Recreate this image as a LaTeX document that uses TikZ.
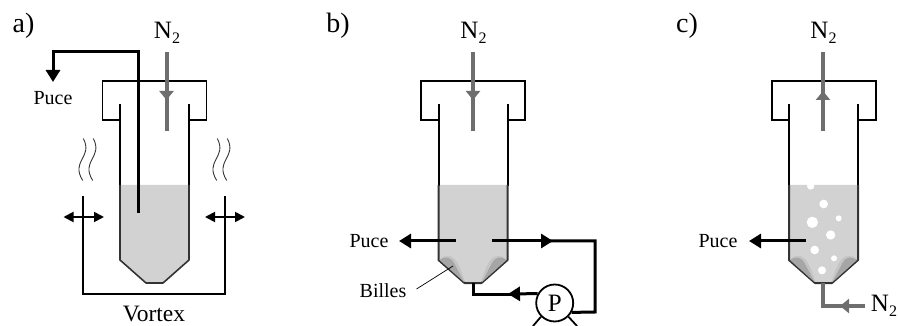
\documentclass[tikz,border=0pt]{standalone}
\usepackage{fontspec}
\setmainfont{Liberation Serif}
\usetikzlibrary{arrows.meta,calc}
\definecolor{liq}{HTML}{D2D2D2}
\definecolor{gas}{HTML}{6E6E6E}
\definecolor{bead}{HTML}{A6A6A6}
\definecolor{halo}{HTML}{C4C4C4}
\newcommand{\subtwo}{\raisebox{-5pt}{\fontsize{16}{16}\selectfont 2}}
\tikzset{
 wallw/.store in=\wallw, wallw=2pt,
 wall/.style={draw=black,line width=\wallw},
 lowwall/.style={draw=black!80,line width=\wallw,line join=round},
 gaspipe/.style={draw=gas,line width=4pt},
 blackpipe/.style={draw=black,line width=3pt,line join=miter},
 gashead/.style={-{Triangle[length=9pt,width=14pt,color=gas]}},
 blackhead/.style={-{Triangle[length=12pt,width=14pt,color=black]}},
 thinarrow/.style={line width=1.8pt,{Triangle[length=10pt,width=10pt]}-{Triangle[length=10pt,width=10pt]}},
 wave/.style={draw=black!80,line width=0.9pt},
 lab/.style={font=\fontsize{20}{22}\selectfont,inner sep=0pt},
 biglab/.style={font=\fontsize{25}{27}\selectfont,inner sep=0pt},
 tag/.style={font=\fontsize{28}{30}\selectfont,inner sep=0pt},
 bubble/.style={fill=white,draw=none},
 pumpc/.style={circle,draw=black,line width=1.8pt,minimum size=37pt,inner sep=0pt,font=\fontsize{25}{27}\selectfont},
 tubestyle/.pic={
  \fill[liq] (-34.5,185)--(34.5,185)--(34.5,260)--(8.5,283)--(-8.5,283)--(-34.5,260)--cycle;
  \draw[wall,line cap=butt] (-34.5,104)--(-34.5,186);
  \draw[wall,line cap=butt] (34.5,104)--(34.5,186);
  \draw[wall,line join=miter] (-34.5,120)--(-52,120)--(-52,81)--(52,81)--(52,120)--(34.5,120);
  \draw[lowwall] (-34.5,185)--(-34.5,260)--(-8.5,283)--(8.5,283)--(34.5,260)--(34.5,185);
 },
 beads/.pic={
  \foreach \s in {-1,1}{
   \fill[halo] (\s*33.5,259.5) .. controls (\s*28,254) and (\s*20,254) .. (\s*15,264) .. controls (\s*12,270) and (\s*9,277) .. (\s*8.5,282) -- cycle;
   \fill[bead] (\s*33.5,260) .. controls (\s*28,256) and (\s*23,256.5) .. (\s*19,263) -- (\s*9,282) -- cycle;
  }
 },
 vapor/.pic={
  \draw[wave] (0,0) .. controls (10,19) and (-13,22) .. (-0.6,42);
  \draw[wave] (10,0) .. controls (20,19) and (-3,22) .. (9.4,42);
 }
}
\begin{document}
\begin{tikzpicture}[x=1pt,y=-1pt]
\useasboundingbox (0,0) rectangle (898,326);
\clip (0,0) rectangle (898,326);
% ------------ a)
\node[tag] (taga) at (23.5,26) {a)};
\pic[wallw=1.6pt] at (154.5,0) {tubestyle};
\node[biglab] (na) at (167,33) {N\subtwo};
\coordinate (a1) at (166.5,52); \coordinate (a2) at (166.5,100); \coordinate (a3) at (166.5,131);
\draw[gaspipe] (a2)++(0,-5)--(a3);
\draw[gaspipe,gashead] (a1)--(a2);
\coordinate (p0) at (138,213); \coordinate (p1) at (138,52); \coordinate (p2) at (53,52); \coordinate (p3) at (53,82);
\draw[blackpipe,blackhead] (p0)--(p1)--(p2)--(p3);
\node[lab] (puca) at (53,98) {Puce};
\coordinate (v1) at (83,196); \coordinate (v2) at (83,294); \coordinate (v3) at (225,294); \coordinate (v4) at (225,196);
\draw[line width=1.6pt,line join=miter] (v1)--(v2)--(v3)--(v4);
\coordinate (l1) at (63.5,217); \coordinate (l2) at (104,217); \coordinate (r1) at (205,217); \coordinate (r2) at (245,217);
\draw[thinarrow] (l1)--(l2);
\draw[thinarrow] (r1)--(r2);
\pic at (83.3,138.5) {vapor};
\pic at (217.3,138.5) {vapor};
\node[biglab,font=\fontsize{23.5}{25}\selectfont] (vortex) at (154,314) {Vortex};
% ------------ b)
\node[tag] (tagb) at (338,26) {b)};
\pic at (473,0) {tubestyle};
\pic at (473,0) {beads};
\node[biglab] (nb) at (473.5,33) {N\subtwo};
\coordinate (b1) at (473,52); \coordinate (b2) at (473,100); \coordinate (b3) at (473,131);
\draw[gaspipe] (b2)++(0,-5)--(b3);
\draw[gaspipe,gashead] (b1)--(b2);
\node[lab] (pucb) at (369,241) {Puce};
\coordinate (c0) at (456,241); \coordinate (c1) at (399,241);
\draw[blackpipe,blackhead] (c0)--(c1);
\node[pumpc] (pump) at (554.7,303) {P};
\coordinate (d0) at (492,241); \coordinate (d1) at (553,241); \coordinate (d2) at (595,241); \coordinate (d3) at (595,312);
\draw[blackpipe] (d1)++(-5,0)--(d2)--(d3)--(pump.-29);
\draw[blackpipe,blackhead] (d0)--(d1);
\coordinate (e1) at (508,294); \coordinate (e2) at (473,294); \coordinate (e3) at (473,283);
\draw[blackpipe] (e1)++(5,0)--(e2)--(e3);
\draw[blackpipe,blackhead] (pump.151)--(e1);
\coordinate (f1) at (533,326); \coordinate (f2) at (577,326);
\draw[line width=1.8pt] (pump.225)--(f1);
\draw[line width=1.8pt] (pump.315)--(f2);
\node[lab] (billes) at (383,291) {Billes};
\coordinate (g1) at (453,266);
\draw[line width=0.7pt] (billes.east)++(10,-2)--(g1);
% ------------ c)
\node[tag] (tagc) at (687,26) {c)};
\pic at (823.5,0) {tubestyle};
\begin{scope}
\clip (789,185) rectangle (858,290);
\foreach \x/\y/\r in {512/558/11,551/612/13,517/667/17,596/655/9,572/705/14,524/750/13,582/775/9,546/811/12}
  \fill[bubble] ({640+\x/3},{\y/3}) circle ({\r/3});
\end{scope}
\pic at (823.5,0) {beads};
\node[biglab] (nc) at (823.5,33) {N\subtwo};
\coordinate (h1) at (823,131); \coordinate (h2) at (823,91); \coordinate (h3) at (823,52);
\draw[gaspipe] (h2)++(0,5)--(h3);
\draw[gaspipe,gashead] (h1)--(h2);
\node[lab] (pucc) at (718,241) {Puce};
\coordinate (i0) at (806,241); \coordinate (i1) at (749,241);
\draw[blackpipe,blackhead] (i0)--(i1);
\node[biglab] (nd) at (884,306) {N\subtwo};
\coordinate (j1) at (865,306); \coordinate (j2) at (840,306); \coordinate (j3) at (823,306); \coordinate (j4) at (823,283);
\draw[gaspipe,line join=miter] (j2)++(5,0)--(j3)--(j4);
\draw[gaspipe,gashead] (j1)--(j2);
\end{tikzpicture}
\end{document}
